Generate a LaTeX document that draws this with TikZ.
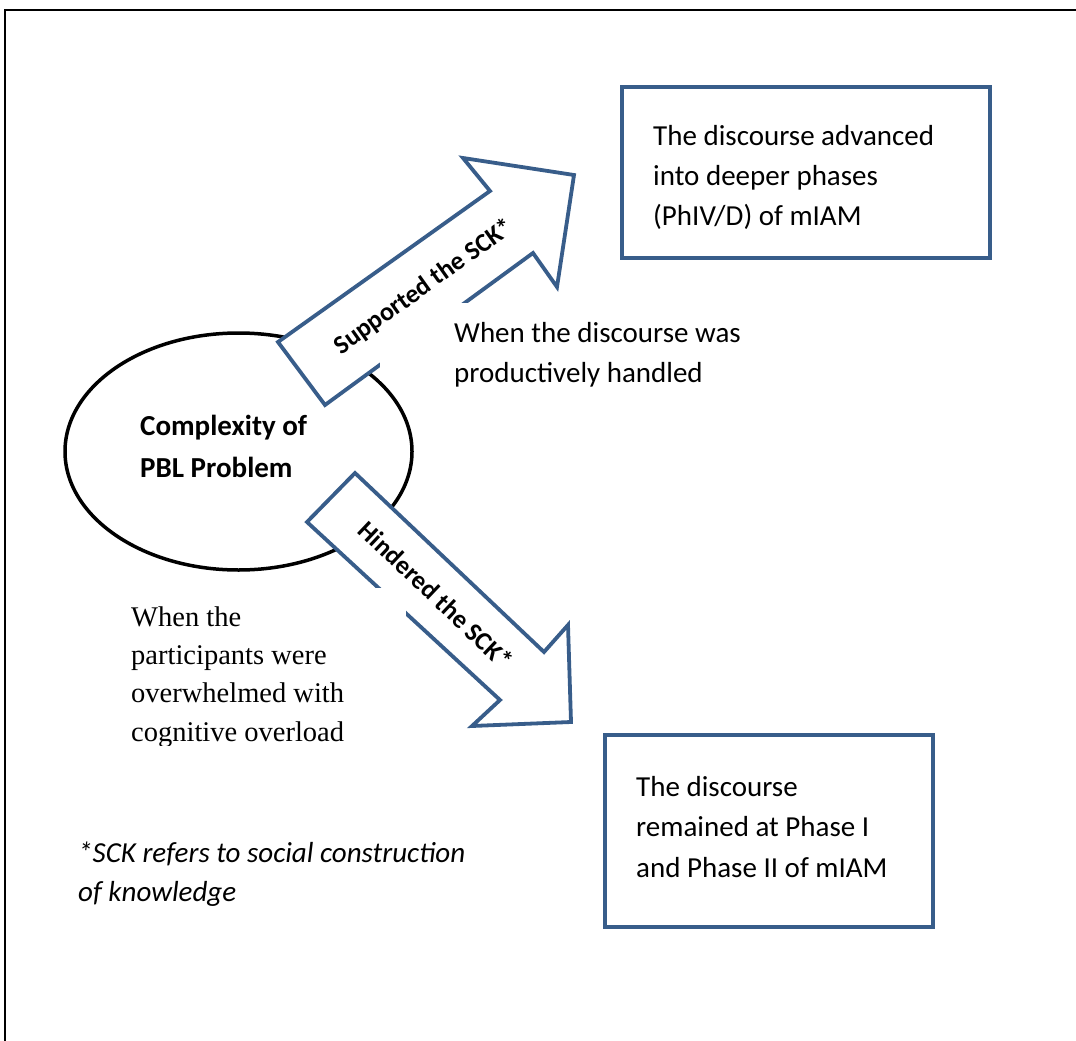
\documentclass[tikz,border=0pt]{standalone}
\usepackage{fontspec}
\setmainfont{Carlito}
\newfontfamily\serifface{Liberation Serif}
\definecolor{arrowblue}{HTML}{385D8A}
\begin{document}
\begin{tikzpicture}[x=1pt,y=-1pt,
  blockarrow/.style={draw=arrowblue, fill=white, line width=3.8pt, line join=miter},
  outcome/.style={draw=arrowblue, line width=3.8pt, rectangle, anchor=north west,
                  outer sep=0pt, inner sep=0pt},
  % multi-line text: the base anchor sits on the last line's baseline
  body/.style={font=\fontsize{29}{40}\selectfont, align=left, anchor=base west,
               inner sep=0pt},
  arrowlabel/.style={font=\fontsize{26}{30}\selectfont\bfseries, inner sep=0pt}]
\useasboundingbox (0,0) rectangle (1076,1041);

% frame
\draw[line width=2pt] (5,1041) -- (5,10) -- (1076,10);

% central problem
\draw[line width=3.5pt] (238.5,451.5) ellipse [x radius=173.5, y radius=118.5];
\node[body, font=\fontsize{29}{42}\selectfont\bfseries] (problem) at (140,477)
  {Complexity of\\PBL Problem};

% block arrows
\draw[blockarrow] (278,342) -- (490,191) -- (463,158) -- (574,175)
  -- (557,287) -- (533,253) -- (325,405) -- cycle;
\draw[blockarrow] (355,473) -- (544,652) -- (568,625) -- (571,722)
  -- (472,726) -- (500,700) -- (307,522) -- cycle;

% condition texts on their white text boxes
\fill[white] (380,303) rectangle (770,381);
\node[body] (handled) at (454,382) {When the discourse was\\productively handled};

\begin{scope}
  \clip (118,588) rectangle (406,745);
  \fill[white] (118,588) rectangle (406,745);
  \node[body, font=\serifface\fontsize{28.5}{38.3}\selectfont] (overload) at (131,741)
    {When the\\participants were\\overwhelmed with\\cognitive overload};
\end{scope}

% arrow labels
\node[arrowlabel, rotate=35.5] (support) at (424,287) {Supported the SCK*};
\node[arrowlabel, rotate=-43.5] (hinder) at (436,595) {Hindered the SCK*};

% outcomes
\node[outcome, minimum width=368pt, minimum height=171pt] (advanced) at (622,87) {};
\node[body] (advancedtext) at (653,225)
  {The discourse advanced\\into deeper phases\\(PhIV/D) of mIAM};

\node[outcome, minimum width=328pt, minimum height=192pt] (remained) at (605,735) {};
\node[body, font=\fontsize{29}{40.5}\selectfont] (remainedtext) at (636,877)
  {The discourse\\remained at Phase I\\and Phase II of mIAM};

% footnote
\node[body, font=\fontsize{29}{39}\selectfont\itshape] (note) at (78,901)
  {*SCK refers to social construction\\of knowledge};
\end{tikzpicture}
\end{document}
